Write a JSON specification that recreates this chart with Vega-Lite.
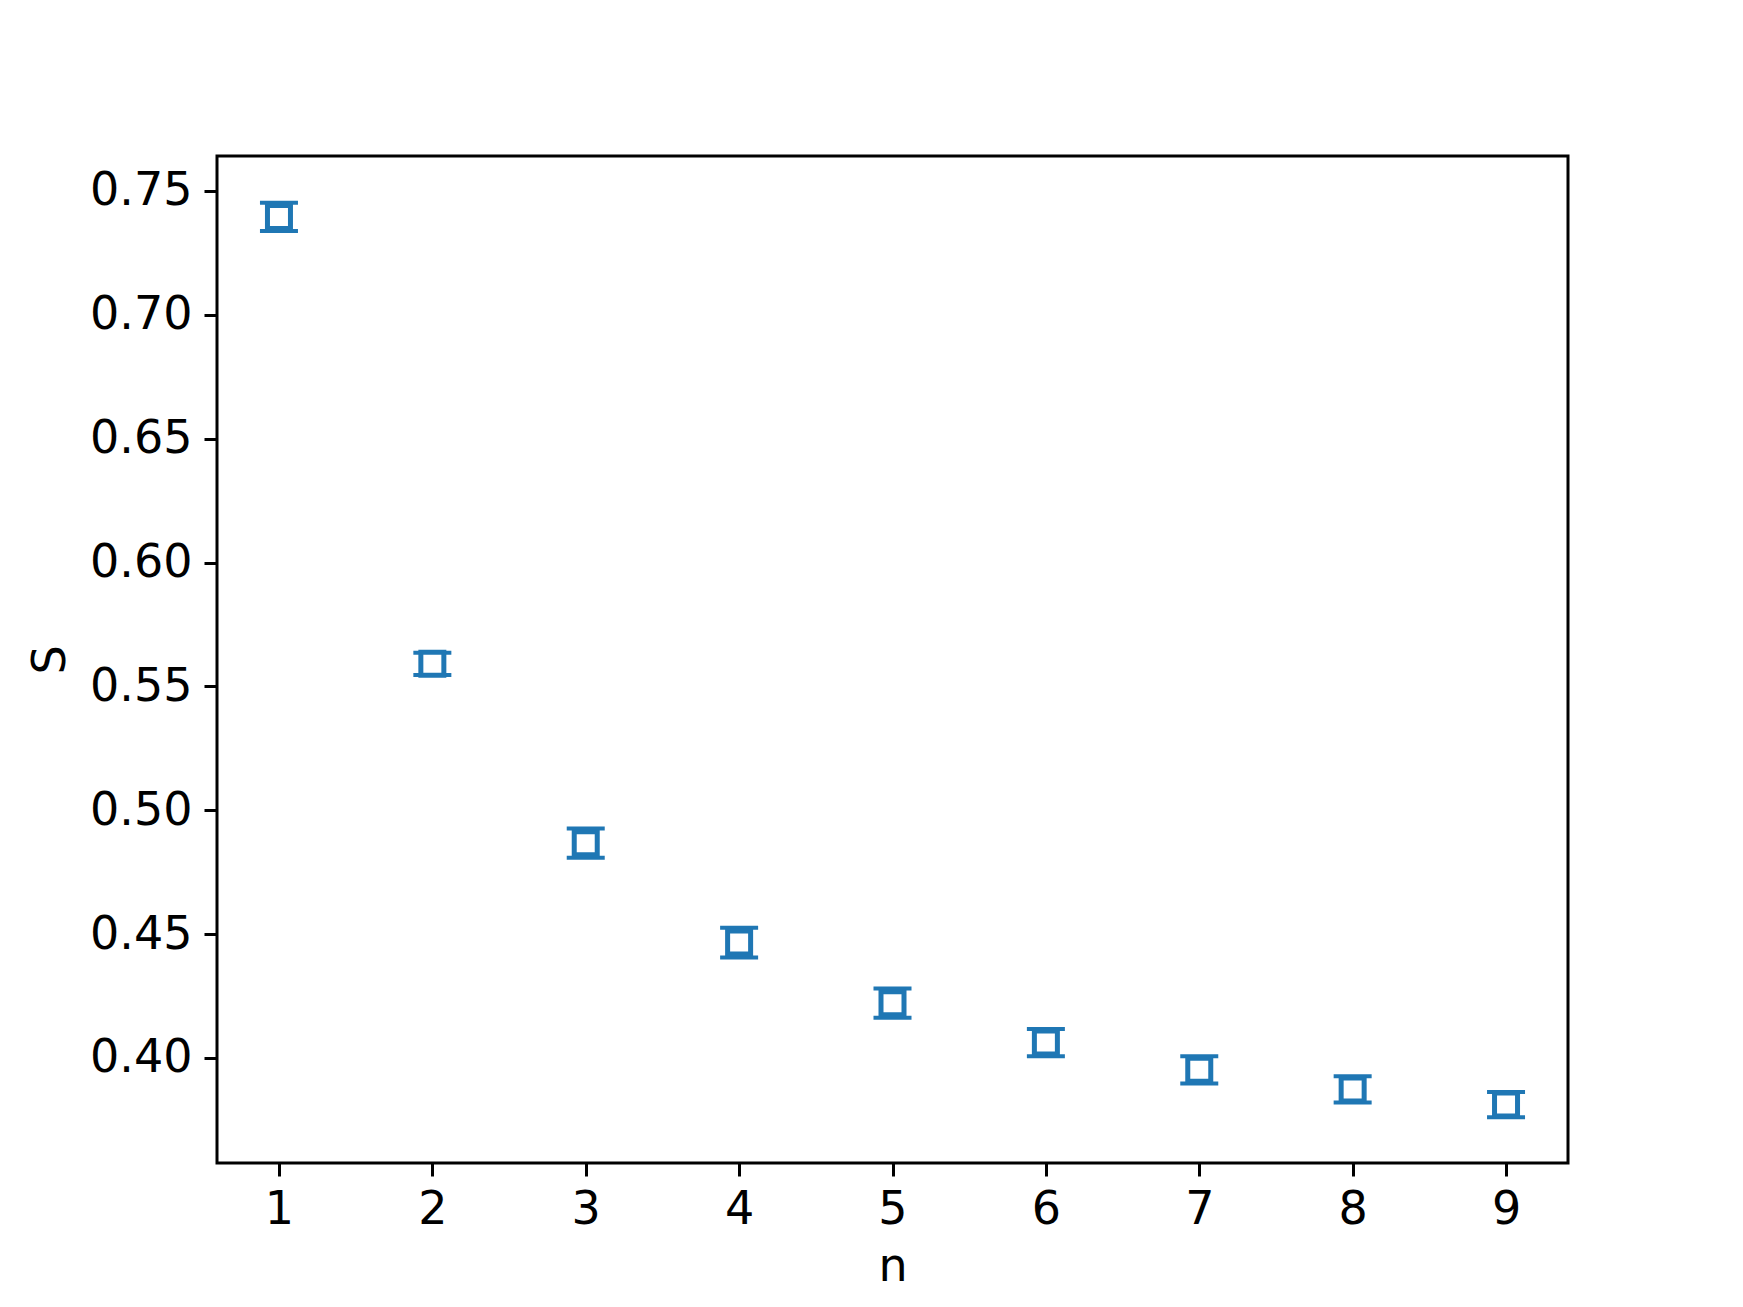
{
  "$schema": "https://vega.github.io/schema/vega-lite/v6.json",
  "width": 1351,
  "height": 1007,
  "autosize": {"type": "none"},
  "padding": {"left": 217, "top": 156, "right": 175, "bottom": 144},
  "background": "white",
  "config": {
    "view": {"stroke": "#000000", "strokeWidth": 3},
    "font": "DejaVu Sans",
    "axis": {
      "grid": false,
      "domain": false,
      "tickColor": "#000000",
      "tickWidth": 3,
      "tickSize": 13,
      "labelPadding": 11,
      "labelFont": "DejaVu Sans",
      "labelFontSize": 46,
      "labelColor": "#000000",
      "titleFont": "DejaVu Sans",
      "titleFontSize": 46,
      "titleFontWeight": "normal",
      "titleColor": "#000000"
    }
  },
  "data": {
    "values": [
      {"n": 1, "S": 0.7395, "lo": 0.7338, "hi": 0.7452},
      {"n": 2, "S": 0.5591, "lo": 0.5546, "hi": 0.5636},
      {"n": 3, "S": 0.4867, "lo": 0.4808, "hi": 0.4926},
      {"n": 4, "S": 0.4466, "lo": 0.4406, "hi": 0.4526},
      {"n": 5, "S": 0.4221, "lo": 0.4162, "hi": 0.4280},
      {"n": 6, "S": 0.4062, "lo": 0.4007, "hi": 0.4117},
      {"n": 7, "S": 0.3952, "lo": 0.3897, "hi": 0.4007},
      {"n": 8, "S": 0.3873, "lo": 0.3820, "hi": 0.3926},
      {"n": 9, "S": 0.3812, "lo": 0.3761, "hi": 0.3863}
    ]
  },
  "encoding": {
    "x": {
      "field": "n",
      "type": "quantitative",
      "scale": {"domain": [0.596, 9.404], "nice": false, "zero": false},
      "axis": {"values": [1, 2, 3, 4, 5, 6, 7, 8, 9], "title": "n", "titlePadding": 12, "format": "d"}
    }
  },
  "layer": [
    {
      "mark": {"type": "rule", "color": "#1f77b4", "strokeWidth": 5},
      "encoding": {
        "y": {
          "field": "lo",
          "type": "quantitative",
          "scale": {"domain": [0.3576, 0.7641], "nice": false, "zero": false},
          "axis": {"values": [0.4, 0.45, 0.5, 0.55, 0.6, 0.65, 0.7, 0.75], "format": ".2f", "title": "S", "titlePadding": 15, "labelPadding": 12}
        },
        "y2": {"field": "hi"}
      }
    },
    {
      "mark": {"type": "tick", "orient": "horizontal", "color": "#1f77b4", "size": 38, "thickness": 4, "opacity": 1},
      "encoding": {"y": {"field": "lo", "type": "quantitative"}}
    },
    {
      "mark": {"type": "tick", "orient": "horizontal", "color": "#1f77b4", "size": 38, "thickness": 4, "opacity": 1},
      "encoding": {"y": {"field": "hi", "type": "quantitative"}}
    },
    {
      "mark": {"type": "point", "shape": "square", "filled": false, "fill": "white", "fillOpacity": 1, "stroke": "#1f77b4", "strokeWidth": 5, "size": 529, "opacity": 1},
      "encoding": {"y": {"field": "S", "type": "quantitative"}}
    }
  ]
}
